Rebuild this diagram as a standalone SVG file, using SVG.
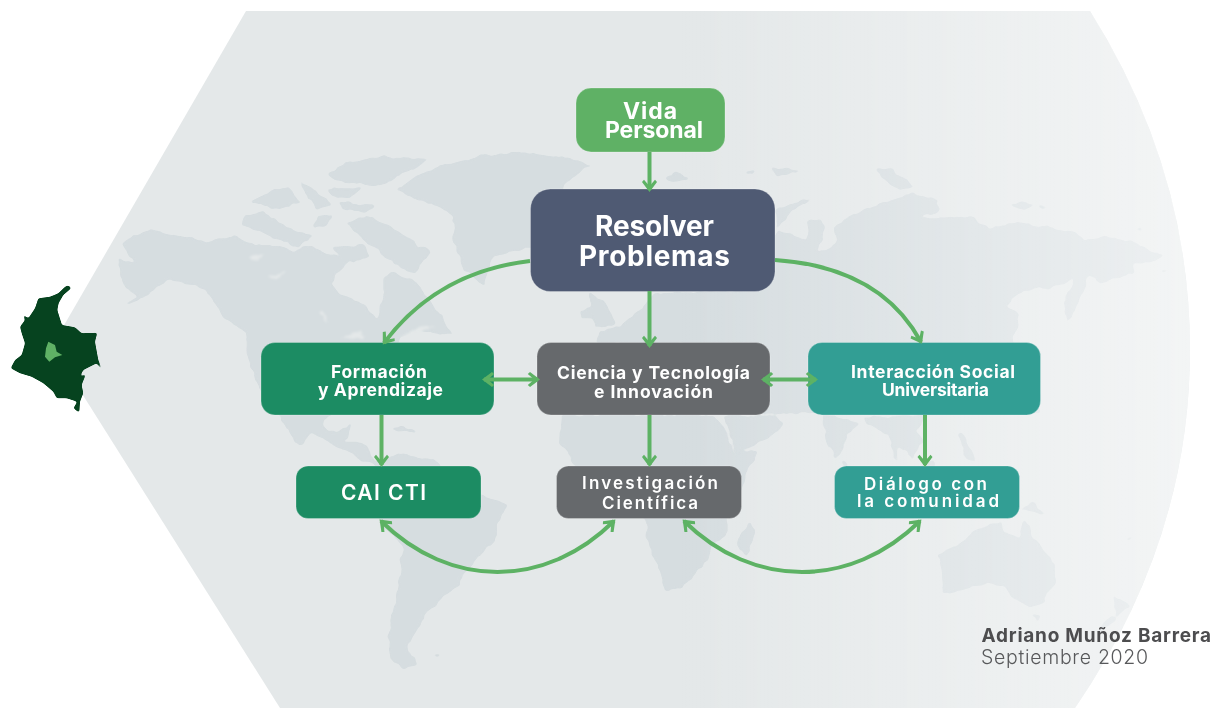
<svg xmlns="http://www.w3.org/2000/svg" width="1212" height="708" viewBox="0 0 1212 708">
<style>
text{font-family:"Inter","Lato","Liberation Sans",sans-serif;fill:#fff;font-weight:700;font-variant-ligatures:none}
text.m{font-weight:600}
.land path{fill:#d6dde0}
.land path.lake{fill:#e4e8e9}
.c{fill:none;stroke:#5db264;stroke-width:4}
.box{stroke:#fff;stroke-opacity:.25;stroke-width:1}
</style>
<defs>
<linearGradient id="fade" gradientUnits="userSpaceOnUse" x1="680" y1="0" x2="1190" y2="0">
<stop offset="0" stop-color="#fff" stop-opacity="0"/><stop offset="1" stop-color="#fff" stop-opacity=".56"/>
</linearGradient>
<filter id="coast" filterUnits="userSpaceOnUse" x="0" y="0" width="1212" height="708" color-interpolation-filters="sRGB">
<feTurbulence type="fractalNoise" baseFrequency=".09" numOctaves="3" seed="4" result="n"/>
<feDisplacementMap in="SourceGraphic" in2="n" scale="6" xChannelSelector="R" yChannelSelector="G"/>
<feGaussianBlur stdDeviation="1.300"/>
<feComponentTransfer><feFuncA type="linear" slope="4" intercept="-1.500"/></feComponentTransfer>
<feGaussianBlur stdDeviation=".400"/>
</filter>
<filter id="soft" filterUnits="userSpaceOnUse" x="0" y="260" width="120" height="170" color-interpolation-filters="sRGB">
<feGaussianBlur stdDeviation=".900"/>
<feComponentTransfer><feFuncA type="linear" slope="4" intercept="-1.500"/></feComponentTransfer>
<feGaussianBlur stdDeviation=".300"/>
</filter>
<marker id="arr" markerUnits="userSpaceOnUse" markerWidth="20" markerHeight="24" refX="14" refY="12" orient="auto-start-reverse" viewBox="0 0 20 24">
<path d="M16 12L6 4.500L3.800 6.500L9 11V13L3.800 17.500L6 19.500Z" fill="#5db264"/>
</marker>
</defs>
<path id="background" d="M246 11H1090Q1190 170 1190 350Q1190 540 1075 708H280L52 346Z" fill="#e4e8e9"/>
<g class="land" filter="url(#coast)">
<g transform="translate(100 130) scale(.3333)">
<path d="M65 340L100 315L150 300L200 312L260 322L330 335L400 315L460 345L530 345L580 360L640 345L680 370L730 380L760 385L720 420L695 460L730 495L800 530L830 570L850 500L850 440L880 430L940 450L960 470L1000 530L1030 570L1060 615L1000 610L940 600L900 620L880 700L640 900L600 950L540 870L470 760L440 680L440 610L370 560L320 480L240 455L200 450L120 510L70 530L110 500L65 465L55 380L105 400Z"/>
<path d="M890 180L960 130L1040 100L1130 80L1240 65L1330 75L1400 85L1475 105L1400 160L1340 250L1340 330L1290 350L1180 380L1150 465L1090 420L1060 330L1060 260L1020 230L960 210Z"/>
<path d="M680 130L740 95L850 80L990 90L900 135L830 170L760 160L700 150Z"/>
<path d="M450 215L520 180L570 170L600 220L540 240Z"/>
<path d="M600 155L650 180L690 225L650 240L620 190Z"/>
<path d="M430 260L490 245L560 290L640 320L600 350L530 330L470 300L425 285Z"/>
<path d="M650 255L700 250L680 290L640 290Z"/>
<path d="M740 280L800 255L870 290L940 330L990 370L940 430L880 400L790 330Z"/>
<path d="M720 215L830 225L800 245L730 240Z"/>
<path d="M680 175L790 175L750 205L700 200Z"/>
<path d="M700 350L790 345L810 380L760 400L720 385Z"/>
<path class="lake" d="M660 540L668 545L682 578L672 570Z"/>
<path class="lake" d="M505 442L560 426L530 448Z"/>
<path class="lake" d="M450 378L495 368L465 392Z"/>
<path class="lake" d="M720 622L780 602L790 625Z"/>
<path class="lake" d="M900 620L960 590L1010 585L960 605Z"/>
</g>
<g transform="translate(300 400) scale(.3333)">
<path d="M0 50L70 50L70 80L110 100L160 70L130 125L190 125L225 190L290 160L400 180L420 195L470 280L540 285L625 315L590 375L585 420L545 465L490 520L470 560L430 590L380 640L350 690L320 740L350 795L310 805L275 780L265 710L285 600L300 520L310 440L240 370L225 195L170 170L90 130L20 90Z"/>
<path d="M270 85L310 80L350 95L300 97Z"/>
<path d="M785 45L780 130L830 200L1040 360L1040 410L1070 490L1095 575L1150 560L1225 480L1235 440L1280 395L1280 360L1325 270L1345 205L1375 155L1305 160L1280 100L1245 45Z"/>
<path d="M1310 440L1325 395L1355 365L1365 400L1340 470Z"/>
<path d="M395 762L420 758L412 768Z"/>
</g>
<g transform="translate(720 400) scale(.3333)">
<path d="M10 45L165 45L192 70L145 115L50 162L35 120Z"/>
<path d="M305 40L420 70L385 100L350 185L315 110Z"/>
<path d="M430 50L620 45L590 90L610 120L580 180L555 150L530 140L535 190L500 100L440 75Z"/>
<path d="M715 100L730 97L750 150L770 190L730 165Z"/>
<path d="M370 178L390 195L370 200Z"/>
<path d="M590 200L640 182L650 198Z"/>
</g>
<g transform="translate(500 130) scale(.3333)">
<path d="M290 640L300 600L360 590L420 540L460 490L830 480L830 640Z"/>
<path d="M490 145L530 130L570 145L530 155Z"/>
<path d="M270 490L320 520L345 585L290 590L270 540Z"/>
<path d="M240 540L270 530L280 565L245 565Z"/>
<path d="M730 128L770 123L760 136L735 135Z"/>
<path d="M810 120L850 112L905 120L830 140Z"/>
<path d="M825 240L870 220L940 205L880 240L830 300Z"/>
</g>
<g transform="translate(750 130) scale(.3333)">
<path d="M0 370L90 300L170 330L175 270L210 265L225 290L205 370L260 340L250 290L290 265L340 240L430 210L490 190L560 210L570 240L510 265L620 265L660 260L720 300L800 275L880 290L980 310L1000 325L1070 320L1150 335L1245 380L1210 400L1150 400L1150 430L1060 460L1015 435L1000 490L950 578L940 520L975 450L900 475L820 480L765 525L810 555L790 640L870 660L870 850L0 850Z"/>
<path d="M380 115L420 115L495 170L450 180L390 145Z"/>
<path d="M775 225L810 215L850 225L820 240Z"/>
<path d="M855 230L900 235L870 240Z"/>
<path d="M1145 300L1175 295L1175 305Z"/>
<path d="M1232 418L1258 422L1240 426Z"/>
</g>
<g transform="translate(900 500) scale(.3333)">
<path d="M112 165L170 135L230 85L310 65L310 95L355 115L370 60L400 110L465 190L465 250L430 305L390 320L340 295L310 260L260 250L190 270L130 280L125 210Z"/>
<path d="M390 345L420 345L410 370Z"/>
<path d="M640 285L690 315L650 350Z"/>
<path d="M590 395L640 345L650 355L600 400Z"/>
<path d="M360 30L400 5L440 50L400 35Z"/>
<path d="M565 145L588 160L575 158Z"/>
<path d="M680 120L702 108L690 125Z"/>
</g>
</g>
<path id="fade-overlay" d="M246 11H1090Q1190 170 1190 350Q1190 540 1075 708H280L52 346Z" fill="url(#fade)"/>
<g id="colombia">
<g filter="url(#soft)"><path transform="translate(0 270) scale(.3333)" d="M205 46L214 55L190 75L176 100L172 120L186 165L225 172L245 190L292 188L285 215L295 270L308 304L290 280L250 300L240 320L258 312L245 345L250 370L240 395L238 428L220 415L232 395L200 385L170 385L160 365L130 340L95 320L60 310L32 295L45 270L65 255L75 220L65 190L60 170L75 150L68 133L85 145L105 115L115 85L150 80L175 70L195 50Z" fill="#06431f"/></g>
<path transform="translate(0 270) scale(.3333)" d="M145 215L165 225L170 245L187 255L165 262L148 275L135 260L138 235Z" fill="#5fb165"/>
</g>
<g id="vida"><rect class="box" x="576" y="88" width="149" height="64" rx="15" fill="#5fb165"/>
<text x="623" y="119" font-size="23" textLength="54">Vida</text><text x="605" y="138" font-size="23" textLength="98">Personal</text></g>
<g id="resolver"><rect class="box" x="530.500" y="189" width="244.500" height="102.500" rx="20" fill="#4f5a73"/>
<text x="595" y="236" font-size="28" textLength="119">Resolver</text><text x="579" y="266" font-size="28" textLength="151">Problemas</text></g>
<g id="formacion"><rect class="box" x="261" y="342.500" width="233" height="72.500" rx="14" fill="#1c8c63"/>
<text x="331" y="378" font-size="17.500" textLength="96">Formación</text><text x="318" y="396" font-size="17.500" textLength="125">y Aprendizaje</text></g>
<g id="ciencia"><rect class="box" x="537" y="342.500" width="233" height="72.500" rx="14" fill="#66696c"/>
<text x="557" y="379" font-size="17.500" textLength="193">Ciencia y Tecnología</text><text x="594" y="397.500" font-size="17.500" textLength="119">e Innovación</text></g>
<g id="interaccion"><rect class="box" x="808" y="342.500" width="232.500" height="72.500" rx="14" fill="#329e94"/>
<text x="851" y="378" font-size="17.500" textLength="164">Interacción Social</text><text x="882" y="396" font-size="17.500" textLength="107">Universitaria</text></g>
<g id="cai"><rect class="box" x="296" y="466" width="185" height="52.500" rx="12" fill="#1c8c63"/>
<text class="m" x="341" y="500" font-size="21" textLength="85">CAI CTI</text></g>
<g id="investigacion"><rect class="box" x="556.500" y="466" width="185" height="52.500" rx="12" fill="#66696c"/>
<text class="m" x="582" y="489" font-size="17" textLength="136">Investigación</text><text class="m" x="602" y="508.500" font-size="17" textLength="96">Científica</text></g>
<g id="dialogo"><rect class="box" x="834.500" y="466" width="185" height="52.500" rx="12" fill="#329e94"/>
<text class="m" x="864" y="490" font-size="17" textLength="123">Diálogo con</text><text class="m" x="857" y="506.500" font-size="17" textLength="142">la comunidad</text></g>
<g id="autor">
<text x="981.500" y="642" font-size="19" textLength="229.500" style="fill:#4d4d4f">Adriano Muñoz Barrera</text>
<text x="981" y="664" font-size="19.500" textLength="167" style="fill:#58595b;font-weight:300">Septiembre 2020</text>
</g>
<g id="connectors">
<path class="c" d="M649.500 152V190" marker-end="url(#arr)"/>
<path class="c" d="M649.500 291V346" marker-end="url(#arr)"/>
<path class="c" d="M381.500 415V465" marker-end="url(#arr)"/>
<path class="c" d="M649.500 415V465" marker-end="url(#arr)"/>
<path class="c" d="M925 415V465" marker-end="url(#arr)"/>
<path class="c" d="M530 261C470 268 420 295 384 343" marker-end="url(#arr)"/>
<path class="c" d="M775 260C835 264 890 285 921 342" marker-end="url(#arr)"/>
<path class="c" d="M484 379.500H538" marker-start="url(#arr)" marker-end="url(#arr)"/>
<path class="c" d="M763 379.500H816" marker-start="url(#arr)" marker-end="url(#arr)"/>
<path class="c" d="M381 521C450 589 545 589 614 521" marker-start="url(#arr)" marker-end="url(#arr)"/>
<path class="c" d="M684 521C753 589 851 589 920 521" marker-start="url(#arr)" marker-end="url(#arr)"/>
</g>
</svg>
